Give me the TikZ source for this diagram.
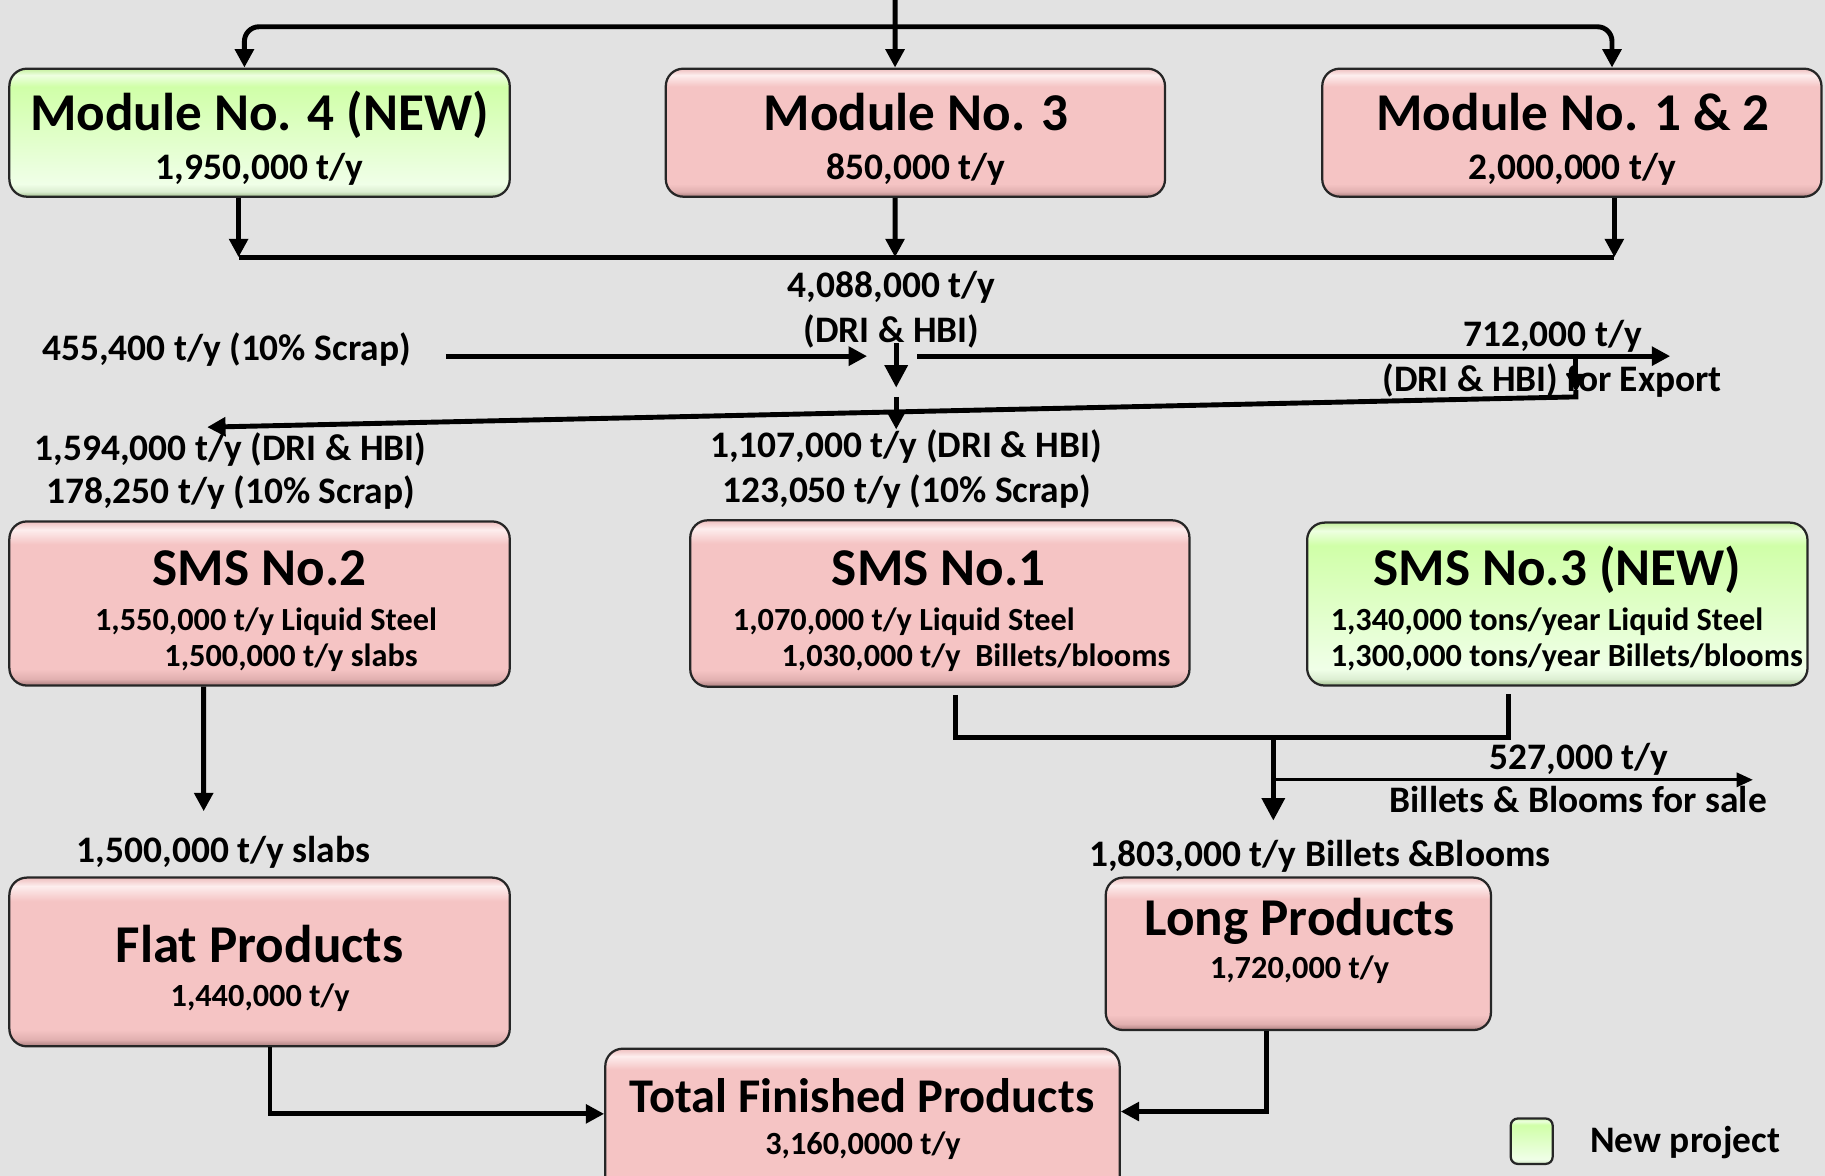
\documentclass[tikz,border=0pt]{standalone}
\usepackage{fontspec}
\setmainfont{Carlito}
\usetikzlibrary{arrows.meta}

\definecolor{bgcol}{RGB}{226,226,226}
\definecolor{pinkbase}{RGB}{245,196,196}
\definecolor{pinkdk}{RGB}{170,125,125}
\definecolor{pinkmd}{RGB}{225,176,176}
\definecolor{pinkhi}{RGB}{253,238,238}
\definecolor{pinktop}{RGB}{238,190,190}
\definecolor{grlow}{RGB}{240,255,232}
\definecolor{grtop}{RGB}{208,255,168}
\definecolor{grdk}{RGB}{160,190,140}
\definecolor{grmd}{RGB}{220,238,210}
\definecolor{grhi}{RGB}{238,255,225}
\definecolor{grtop2}{RGB}{196,240,156}

\pgfdeclareverticalshading{pinkbevel}{100bp}{color(0bp)=(pinkdk); color(25bp)=(pinkdk); color(27bp)=(pinkmd); color(30bp)=(pinkbase); color(68bp)=(pinkbase); color(72.5bp)=(pinkhi); color(75bp)=(pinktop); color(100bp)=(pinktop)}
\pgfdeclareverticalshading{greenbevel}{100bp}{color(0bp)=(grdk); color(25bp)=(grdk); color(27bp)=(grmd); color(30bp)=(grlow); color(68bp)=(grtop); color(72.5bp)=(grhi); color(75bp)=(grtop2); color(100bp)=(grtop2)}

\tikzset{
	box/.style={draw=black!85, line width=1.1pt, rounded corners=0.3cm, inner sep=0pt, shade},
	pinkbox/.style={box, shading=pinkbevel},
	greenbox/.style={box, shading=greenbevel},
	ttltxt/.style={font=\fontsize{26}{30}\selectfont\bfseries, anchor=base, inner sep=0pt},
	valtxt/.style={font=\fontsize{18.3}{22}\selectfont\bfseries, anchor=base, inner sep=0pt},
	subtxt/.style={font=\fontsize{15.8}{19}\selectfont\bfseries, anchor=base, inner sep=0pt},
	pipe/.style={line width=2.4pt},
	flow/.style={pipe, -{Triangle[length=9pt,width=9pt]}},
	bigflow/.style={pipe, -{Triangle[length=11pt,width=11pt]}},
	thinflow/.style={line width=1.3pt, -{Triangle[length=8pt,width=7pt]}}
}

\begin{document}
\begin{tikzpicture}[x=0.02cm, y=-0.02cm]
				\useasboundingbox (0,0) rectangle (1568,1010);
				\clip (0,0) rectangle (1568,1010);
				\fill[bgcol] (0,0) rectangle (1568,1010);
				
				% boxes
				\node[greenbox, minimum width=8.6cm, minimum height=2.2cm] (mod4) at (223,114) {};
				\node[pinkbox, minimum width=8.58cm, minimum height=2.2cm] (mod3) at (786.5,114) {};
				\node[pinkbox, minimum width=8.58cm, minimum height=2.2cm] (mod12) at (1350.5,114) {};
				
				\node[pinkbox, minimum width=8.6cm, minimum height=2.82cm] (sms2) at (223,518.5) {};
				\node[pinkbox, minimum width=8.58cm, minimum height=2.86cm] (sms1) at (807.5,518.5) {};
				\node[greenbox, minimum width=8.6cm, minimum height=2.8cm] (sms3) at (1338,519) {};
				
				\node[pinkbox, minimum width=8.6cm, minimum height=2.9cm] (flat) at (223,826.5) {};
				\node[pinkbox, minimum width=6.62cm, minimum height=2.62cm] (long) at (1115.5,819.5) {};
				\node[pinkbox, minimum width=8.84cm, minimum height=2.58cm] (total) at (741,965.5) {};
				
				\node[greenbox, rounded corners=0.12cm, minimum width=0.72cm, minimum height=0.78cm] (legbox) at (1316,980.5) {};
				
				% box texts
				\node[ttltxt] (mod4t) at (223,112) {Module No. 4 (NEW)};
				\node[valtxt] (mod4v) at (223,154) {1,950,000 t/y};
				\node[ttltxt] (mod3t) at (787,112) {Module No. 3};
				\node[valtxt] (mod3v) at (787,154) {850,000 t/y};
				\node[ttltxt] (mod12t) at (1351.5,112) {Module No. 1 \& 2};
				\node[valtxt] (mod12v) at (1351,154) {2,000,000 t/y};
				
				\node[ttltxt] (sms2t) at (223,503) {SMS No.2};
				\node[subtxt] (sms2a) at (228.5,541.5) {1,550,000 t/y Liquid Steel};
				\node[subtxt] (sms2b) at (250,573) {1,500,000 t/y slabs};
				\node[ttltxt] (sms1t) at (806.5,503) {SMS No.1};
				\node[subtxt] (sms1a) at (776.5,541.5) {1,070,000 t/y Liquid Steel};
				\node[subtxt] (sms1b) at (838.5,573) {1,030,000 t/y\ \ Billets/blooms};
				\node[ttltxt] (sms3t) at (1338,503) {SMS No.3 (NEW)};
				\node[subtxt, anchor=base west] (sms3a) at (1143,541.5) {1,340,000 tons/year Liquid Steel};
				\node[subtxt, anchor=base west] (sms3b) at (1143,573) {1,300,000 tons/year Billets/blooms};
				
				\node[ttltxt] (flatt) at (223,827) {Flat Products};
				\node[subtxt] (flatv) at (223.5,865) {1,440,000 t/y};
				\node[ttltxt] (longt) at (1116.5,804) {Long Products};
				\node[subtxt] (longv) at (1116.5,841) {1,720,000 t/y};
				\node[ttltxt, font=\fontsize{23.7}{28}\selectfont\bfseries] (totalt) at (740.5,955.5) {Total Finished Products};
				\node[subtxt] (totalv) at (741.5,992) {3,160,0000 t/y};
				
				\node[valtxt, anchor=base west] (legtxt) at (1366,990) {New project};
				
				% flow labels
				\node[valtxt] (dritot) at (766,255.5) {4,088,000 t/y};
				\node[valtxt] (dritotb) at (766,294) {(DRI \& HBI)};
				\node[valtxt] (scrapin) at (194.5,309.5) {455,400 t/y (10\% Scrap)};
				\node[valtxt] (expa) at (1334,298) {712,000 t/y};
				\node[valtxt] (expb) at (1333.5,336) {(DRI \& HBI) for Export};
				\node[valtxt] (feed2a) at (198,395.6) {1,594,000 t/y (DRI \& HBI)};
				\node[valtxt] (feed2b) at (198,433) {178,250 t/y (10\% Scrap)};
				\node[valtxt] (feed1a) at (778.5,393) {1,107,000 t/y (DRI \& HBI)};
				\node[valtxt] (feed1b) at (779,431.6) {123,050 t/y (10\% Scrap)};
				\node[valtxt] (slabs) at (192,741) {1,500,000 t/y slabs};
				\node[valtxt] (billets) at (1134,744.5) {1,803,000 t/y Billets \&Blooms};
				\node[valtxt] (salea) at (1356.5,661) {527,000 t/y};
				\node[valtxt] (saleb) at (1356,698) {Billets \& Blooms for sale};
				
				% connectors
				\coordinate (top) at (769,0);
				\coordinate (split) at (769,23);
				\coordinate (c4) at (205,221);
				\coordinate (c12) at (1387,221);
				
				\draw[flow] (top) -- ([xshift=-0.35cm]mod3.north);
				\draw[flow, rounded corners=0.25cm] (split) -| ([xshift=-0.26cm]mod4.north);
				\draw[flow, rounded corners=0.25cm] (split) -| ([xshift=0.69cm]mod12.north);
				
				\draw[flow] (mod4.south -| c4) -- (c4);
				\draw[flow] ([xshift=-0.35cm]mod3.south) -- (769,221);
				\draw[flow] (mod12.south -| c12) -- (c12);
				\draw[pipe] (c4) -- (c12);
				
				\draw[flow] (383,306) -- (745,306);
				\draw[flow] (788,306) -- (1435,306);
				\draw[bigflow] (770,295) -- (770,333);
				\draw[flow] (1354,306) -- (1354,337);
				\draw[flow] (1354,335) -- (1354,341) -- (178,367);
				\draw[flow] (770,341) -- (770,369);
				
				\draw[flow] ([xshift=-0.96cm]sms2.south) -- (175,697);
				
				\coordinate (join) at (1094,634);
				\draw[pipe] ([xshift=0.27cm,yshift=-0.12cm]sms1.south) |- (join) -| ([xshift=-0.84cm,yshift=-0.12cm]sms3.south);
				\draw[bigflow] (join) -- (1094,705);
				\draw[thinflow] (1095,670) -- (1506,670);
				
				\draw[flow] ([xshift=0.18cm]flat.south) |- ([yshift=0.17cm]total.west);
				\draw[flow] ([xshift=-0.55cm]long.south) |- ([yshift=0.21cm]total.east);
\end{tikzpicture}
\end{document}
